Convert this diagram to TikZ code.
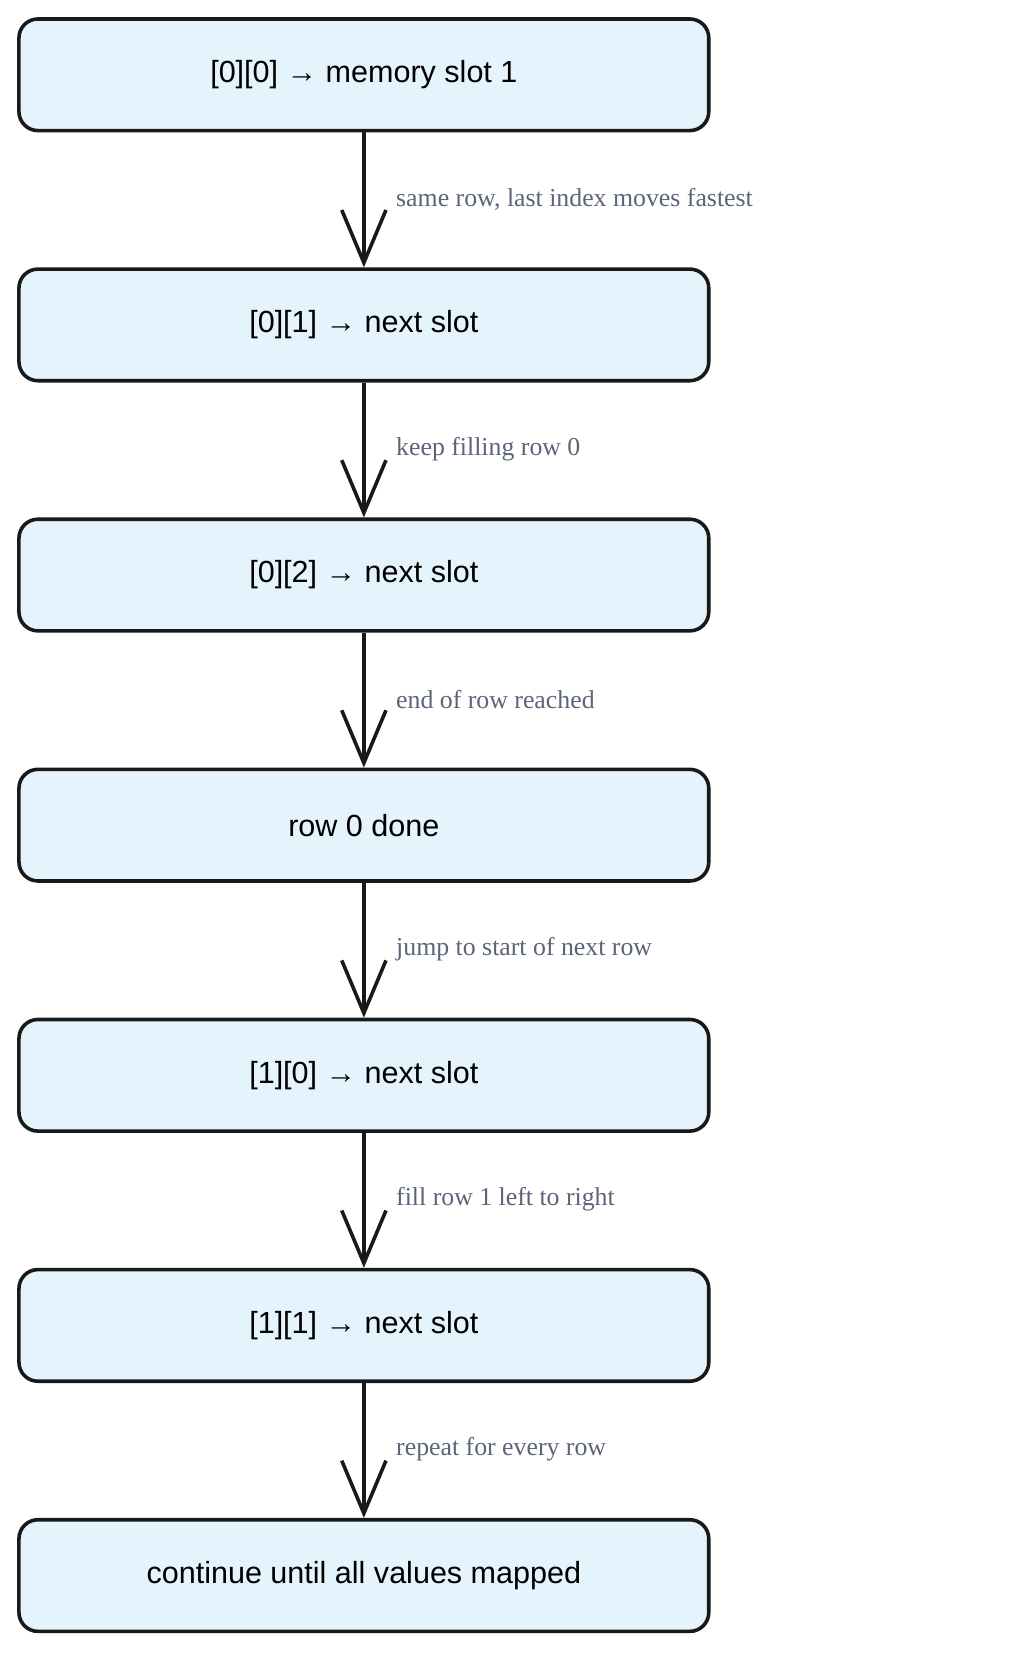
\documentclass[tikz,border=0pt]{standalone}
\usepackage{fontspec}
\setmainfont{Liberation Serif}
\setsansfont{Liberation Sans}
\usetikzlibrary{arrows.meta}
\definecolor{boxfill}{HTML}{E5F3FC}
\definecolor{lbl}{HTML}{5B6478}
\begin{document}
\begin{tikzpicture}[x=1pt,y=-1pt,
  stepbox/.style={draw=black!90,line width=3.4pt,fill=boxfill,rounded corners=18pt,minimum width=655pt,minimum height=106pt,font=\sffamily\fontsize{29}{32}\selectfont,inner sep=0pt},
  conn/.style={line width=3.4pt,draw=black!90,-{Straight Barb[length=50pt,width=42pt,line width=3.4pt]}},
  lab/.style={font=\fontsize{24.5}{27}\selectfont,text=lbl,anchor=west,inner sep=0pt}]
\useasboundingbox (0,0) rectangle (960,1580);
\foreach \n/\t [count=\i from 0] in {a/{[0][0] → memory slot 1},b/{[0][1] → next slot},c/{[0][2] → next slot},d/{row 0 done},e/{[1][0] → next slot},f/{[1][1] → next slot},g/{continue until all values mapped}}
  \node[stepbox] (\n) at (345.5,{71+237.5*\i}) {\t};
\foreach \p/\q/\t [count=\i from 0] in {a/b/{same row, last index moves fastest},b/c/{keep filling row 0},c/d/{end of row reached},d/e/{jump to start of next row},e/f/{fill row 1 left to right},f/g/{repeat for every row}}{
  \draw[conn] (\p.south) -- (\q.north);
  \node[lab] (l\i) at (376,{189+237.5*\i}) {\t};
}
\end{tikzpicture}
\end{document}
